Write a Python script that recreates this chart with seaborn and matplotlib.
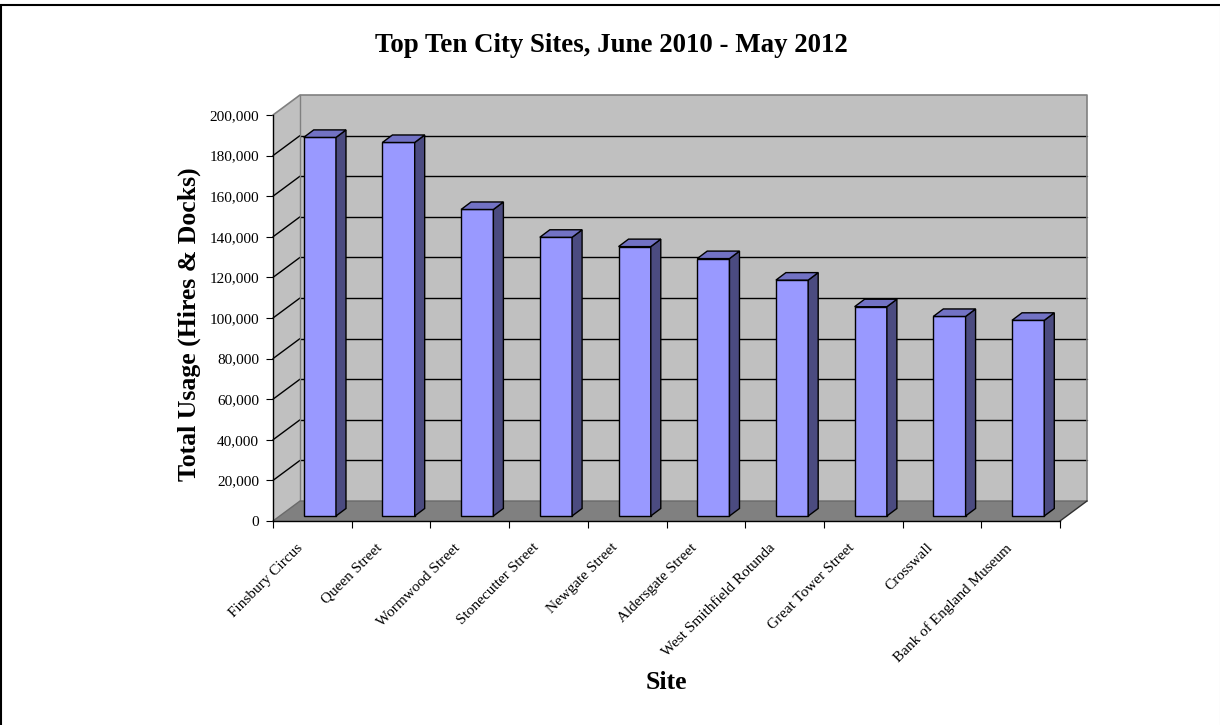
import numpy as np
import pandas as pd
import matplotlib
matplotlib.use("Agg")
import matplotlib.pyplot as plt
import matplotlib.transforms as mtransforms
from matplotlib.patches import Polygon, Rectangle
from matplotlib.lines import Line2D
import seaborn as sns

# ---- data ----
sites = ["Finsbury Circus", "Queen Street", "Wormwood Street", "Stonecutter Street",
         "Newgate Street", "Aldersgate Street", "West Smithfield Rotunda",
         "Great Tower Street", "Crosswall", "Bank of England Museum"]
usage = [186500, 184000, 151000, 137300, 132700, 126800, 116200, 103100, 98300, 96400]
y_ticks = [0, 20000, 40000, 60000, 80000, 100000, 120000, 140000, 160000, 180000, 200000]
title = "Top Ten City Sites, June 2010 - May 2012"
x_title = "Site"
y_title = "Total Usage (Hires & Docks)"

sns.set_theme(style="white")
plt.rcParams["font.family"] = ["Liberation Serif", "DejaVu Serif"]

W, H = 1220, 725
fig = plt.figure(figsize=(W / 100, H / 100), dpi=100)
fig.patch.set_facecolor("white")

# front plane of the 3-D box
ax_l, ax_r, ax_t, ax_b = 273, 1060, 115, 521
ax = fig.add_axes([ax_l / W, (H - ax_b) / H, (ax_r - ax_l) / W, (ax_b - ax_t) / H])
ax.patch.set_alpha(0)

df = pd.DataFrame({"Site": sites, "Usage": usage})
sns.barplot(data=df, x="Site", y="Usage", color="#9999FF", saturation=1, width=0.41,
            edgecolor="black", linewidth=1.0, ax=ax, zorder=5)
bars = list(ax.patches)

ymax = y_ticks[-1]
ax.set_xlim(-0.5, len(sites) - 0.5)
ax.set_ylim(0, ymax)

# pixel -> data conversions
sx = len(sites) / (ax_r - ax_l)
sy = ymax / (ax_b - ax_t)
DX, DY = 27 * sx, 20 * sy      # full depth of the box
FX, FY = 7.5 * sx, 5 * sy      # bar front offset
BX, BY = 10 * sx, 7.5 * sy     # bar depth

x0w, x1w = -0.5, len(sites) - 0.5
wall = "#C0C0C0"
edge_gray = "#808080"

# walls and floor
ax.add_patch(Polygon([(x0w, 0), (x0w + DX, DY), (x0w + DX, ymax + DY), (x0w, ymax)],
                     closed=True, fc=wall, ec="none", zorder=0.5, clip_on=False))
ax.add_patch(Rectangle((x0w + DX, DY), x1w - x0w, ymax, fc=wall, ec="none",
                       zorder=0.5, clip_on=False))
ax.add_patch(Polygon([(x0w, 0), (x1w, 0), (x1w + DX, DY), (x0w + DX, DY)],
                     closed=True, fc="#808080", ec="none", zorder=0.6, clip_on=False))

# gridlines on walls
for v in y_ticks[1:-1]:
    ax.add_line(Line2D([x0w + DX, x1w + DX], [v + DY, v + DY], color="black", lw=1.0,
                       zorder=1, clip_on=False))
    ax.add_line(Line2D([x0w, x0w + DX], [v, v + DY], color="black", lw=1.0,
                       zorder=1, clip_on=False))
# wall borders
ax.add_line(Line2D([x0w, x0w + DX, x1w + DX, x1w + DX], [ymax, ymax + DY, ymax + DY, DY],
                   color=edge_gray, lw=1.2, zorder=1.1, clip_on=False))
ax.add_line(Line2D([x0w + DX, x0w + DX], [DY, ymax + DY], color=edge_gray, lw=1.0,
                   zorder=1.1, clip_on=False))
ax.add_line(Line2D([x0w, x0w + DX, x1w + DX], [0, DY, DY], color="#6a6a6a", lw=1.0,
                   zorder=1.1, clip_on=False))
ax.add_line(Line2D([x1w, x1w + DX], [0, DY], color="#303030", lw=1.0,
                   zorder=1.1, clip_on=False))

# 3-D bars
for p in bars:
    x0 = p.get_x() + FX
    w = p.get_width()
    h = p.get_height()
    p.set_x(x0)
    p.set_y(FY)
    p.set_clip_on(False)
    ax.add_patch(Polygon([(x0 + w, FY), (x0 + w + BX, FY + BY), (x0 + w + BX, FY + BY + h),
                          (x0 + w, FY + h)], closed=True, fc="#4B4B80", ec="black", lw=1.0,
                         zorder=5, clip_on=False))
    ax.add_patch(Polygon([(x0, FY + h), (x0 + BX, FY + h + BY), (x0 + w + BX, FY + h + BY),
                          (x0 + w, FY + h)], closed=True, fc="#7272C4", ec="black", lw=1.0,
                         zorder=5, clip_on=False))

# axes / ticks
for s in ["top", "right"]:
    ax.spines[s].set_visible(False)
for s in ["left", "bottom"]:
    ax.spines[s].set_visible(True)
    ax.spines[s].set_color("black")
    ax.spines[s].set_linewidth(1.0)
    ax.spines[s].set_zorder(3)

ax.set_yticks(y_ticks)
ax.set_yticklabels([f"{v:,}" for v in y_ticks], fontsize=11)
ax.tick_params(axis="y", which="major", left=True, direction="out", length=5, width=0.8,
               color="black", pad=5, labelcolor="black")

ax.set_xticks(range(len(sites)))
ax.set_xticklabels(sites, rotation=45, ha="right", rotation_mode="anchor", fontsize=11)
ax.set_xticks(np.arange(-0.5, len(sites), 1.0), minor=True)
ax.tick_params(axis="x", which="major", bottom=True, length=0, pad=14.5, labelcolor="black")
ax.tick_params(axis="x", which="minor", bottom=True, direction="out", length=5, width=0.8,
               color="black")
shift = mtransforms.ScaledTranslation(-16 / 100, 0, fig.dpi_scale_trans)
for lbl in ax.get_xticklabels():
    lbl.set_transform(lbl.get_transform() + shift)

ax.set_xlabel("")
ax.set_ylabel("")
ax.grid(False)

# titles
fig.text(611 / W, 1 - 52 / H, title, ha="center", va="baseline", fontsize=19.4,
         fontweight="bold", color="black")
fig.text(189 / W, 1 - 324 / H, y_title, ha="center", va="center", rotation=90,
         fontsize=18.5, fontweight="bold", color="black")
fig.text(666 / W, 1 - 689 / H, x_title, ha="center", va="baseline", fontsize=18.5,
         fontweight="bold", color="black")

# outer frame
fig.add_artist(Line2D([1 / W, 1 / W], [0, 1 - 5 / H], transform=fig.transFigure,
                      color="black", lw=1.5))
fig.add_artist(Line2D([0, 1], [1 - 5 / H, 1 - 5 / H], transform=fig.transFigure,
                      color="black", lw=1.5))
fig.add_artist(Line2D([1219.5 / W, 1219.5 / W], [0, 1 - 5 / H], transform=fig.transFigure,
                      color="#d8d8d8", lw=0.8))

fig.savefig("out.png", dpi=100)
